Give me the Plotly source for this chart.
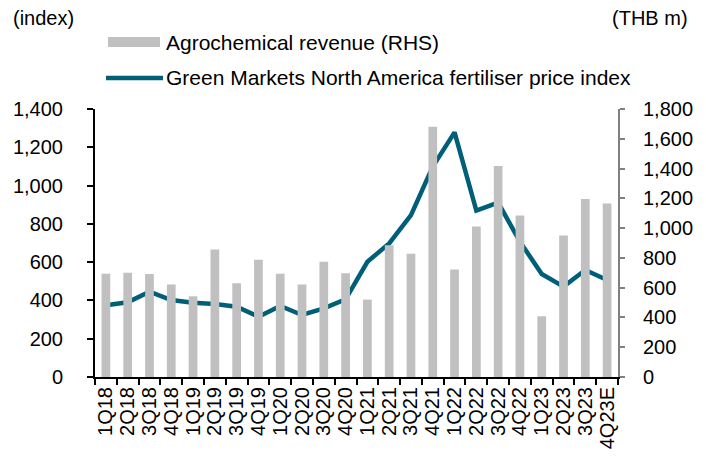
import plotly.graph_objects as go

categories = ["1Q18","2Q18","3Q18","4Q18","1Q19","2Q19","3Q19","4Q19",
              "1Q20","2Q20","3Q20","4Q20","1Q21","2Q21","3Q21","4Q21",
              "1Q22","2Q22","3Q22","4Q22","1Q23","2Q23","3Q23","4Q23E"]
revenue_rhs = [694, 700, 691, 622, 542, 856, 629, 787,
               694, 622, 774, 696, 520, 885, 828, 1681,
               722, 1010, 1418, 1084, 408, 950, 1196, 1166]
price_index = [375, 390, 446, 402, 388, 381, 367, 315,
               371, 324, 359, 406, 602, 698, 846, 1099,
               1278, 869, 911, 707, 538, 472, 559, 507]
left_ticks = [0, 200, 400, 600, 800, 1000, 1200, 1400]
right_ticks = [0, 200, 400, 600, 800, 1000, 1200, 1400, 1600, 1800]

FONT = "Liberation Sans, Arial, sans-serif"
BAR_COLOR = "#C0C0C0"
LINE_COLOR = "#005F78"

fig = go.Figure()
fig.add_trace(go.Bar(x=categories, y=revenue_rhs, name="Agrochemical revenue (RHS)",
                     marker=dict(color=BAR_COLOR, line=dict(width=0)), width=0.4,
                     yaxis="y2", showlegend=False))
fig.add_trace(go.Scatter(x=categories, y=price_index, mode="lines",
                         name="Green Markets North America fertiliser price index",
                         line=dict(color=LINE_COLOR, width=4.5), yaxis="y",
                         showlegend=False))

fig.update_layout(
    width=706, height=459,
    margin=dict(l=95, r=88, t=109, b=82, pad=0),
    paper_bgcolor="white", plot_bgcolor="white",
    font=dict(family=FONT, size=18, color="black"),
    xaxis=dict(type="category", tickmode="array", tickvals=categories,
               showline=True, linecolor="black", linewidth=2,
               ticks="outside", tickson="boundaries", ticklen=6, tickcolor="black",
               tickwidth=2, tickangle=-90, tickfont=dict(size=20), showgrid=False,
               automargin=False),
    yaxis=dict(range=[0, 1400], tickvals=left_ticks,
               ticktext=[f"{v:,}" for v in left_ticks],
               showline=True, linecolor="black", linewidth=2, ticks="outside",
               ticklen=6, tickwidth=2, tickcolor="black", showgrid=False,
               zeroline=False, ticklabelstandoff=20, tickfont=dict(size=20),
               automargin=False),
    yaxis2=dict(range=[0, 1800], tickvals=right_ticks,
                ticktext=[f"{v:,}" for v in right_ticks],
                overlaying="y", side="right", showline=True, linecolor="#808080",
                linewidth=2, ticks="outside", ticklen=5, tickwidth=2,
                tickcolor="#808080", showgrid=False, zeroline=False,
                ticklabelstandoff=14, tickfont=dict(size=20), automargin=False),
    bargap=0.6,
)

# axis unit labels
fig.add_annotation(text="(index)", xref="paper", yref="paper", x=-0.160, y=1.34,
                   xanchor="left", yanchor="middle", showarrow=False, font=dict(size=20))
fig.add_annotation(text="(THB m)", xref="paper", yref="paper", x=1.137, y=1.34,
                   xanchor="right", yanchor="middle", showarrow=False, font=dict(size=20))

# custom legend
fig.add_shape(type="rect", xref="paper", yref="paper", x0=0.0249, x1=0.1243,
              y0=1.2313, y1=1.2687, fillcolor=BAR_COLOR, line=dict(width=0))
fig.add_annotation(text="Agrochemical revenue (RHS)", xref="paper", yref="paper",
                   x=0.131, y=1.25, xanchor="left", yanchor="middle", showarrow=False,
                   font=dict(size=21))
fig.add_shape(type="line", xref="paper", yref="paper", x0=0.021, x1=0.130,
              y0=1.1157, y1=1.1157, line=dict(color=LINE_COLOR, width=4.5))
fig.add_annotation(text="Green Markets North America fertiliser price index",
                   xref="paper", yref="paper", x=0.131, y=1.1157, xanchor="left",
                   yanchor="middle", showarrow=False, font=dict(size=21))

fig.write_html("out.html", config={"displayModeBar": False},
               post_script="document.body.style.margin='0';document.body.style.overflow='hidden';")
